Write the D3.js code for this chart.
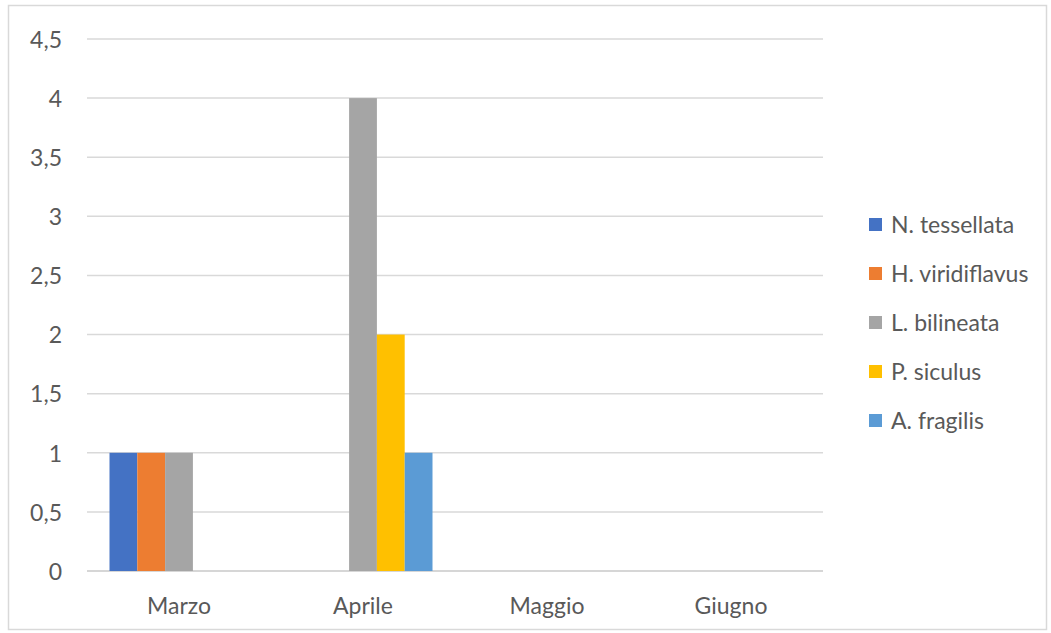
<!DOCTYPE html>
<html>
<head>
<meta charset="utf-8">
<script src="https://cdn.jsdelivr.net/npm/d3@7"></script>
<style>
  html, body { margin: 0; padding: 0; background: #fff; }
  svg { display: block; }
  text { font-family: Lato, "Noto Sans", sans-serif; fill: #595959; }
</style>
</head>
<body>
<svg id="chart" width="1051" height="633"></svg>
<script>
// Monthly sightings per species
const categories = ["Marzo", "Aprile", "Maggio", "Giugno"];
const seriesNames = ["N. tessellata", "H. viridiflavus", "L. bilineata", "P. siculus", "A. fragilis"];
const nTessellata = [1, 0, 0, 0];
const hViridiflavus = [1, 0, 0, 0];
const lBilineata = [1, 4, 0, 0];
const pSiculus = [0, 2, 0, 0];
const aFragilis = [0, 1, 0, 0];
const yTicks = [0, 0.5, 1, 1.5, 2, 2.5, 3, 3.5, 4, 4.5];
const colors = ["#4472C4", "#ED7D31", "#A5A5A5", "#FFC000", "#5B9BD5"];

const seriesValues = [nTessellata, hViridiflavus, lBilineata, pSiculus, aFragilis];
const rows = [];
categories.forEach((c, i) => {
  seriesNames.forEach((s, j) => rows.push({ cat: c, series: s, value: seriesValues[j][i], color: colors[j] }));
});

const svg = d3.select("#chart");
const plot = { left: 87, right: 823, top: 39, bottom: 571 };

// chart frame
svg.append("rect")
  .attr("x", 8.5).attr("y", 5.5)
  .attr("width", 1038).attr("height", 624)
  .attr("fill", "#fff")
  .attr("stroke", "#d9d9d9").attr("stroke-width", 1.5);

const y = d3.scaleLinear().domain([0, 4.5]).range([plot.bottom, plot.top]);
const x0 = d3.scaleBand().domain(categories).range([plot.left, plot.right]).paddingInner(0).paddingOuter(0);
const x1 = d3.scaleBand().domain(seriesNames).range([22.5, x0.bandwidth() - 22.5]).padding(0);

const fmt = v => String(v).replace(".", ",");

// gridlines
svg.append("g")
  .selectAll("line")
  .data(yTicks)
  .join("line")
  .attr("x1", plot.left).attr("x2", plot.right)
  .attr("y1", d => y(d)).attr("y2", d => y(d))
  .attr("stroke", d => d === 0 ? "#c8c8c8" : "#d9d9d9")
  .attr("stroke-width", 1.5);

// y axis labels
const yAxis = d3.axisLeft(y).tickValues(yTicks).tickFormat(fmt).tickSize(0).tickPadding(0);
const gy = svg.append("g").attr("transform", `translate(62,0)`).call(yAxis);
gy.select(".domain").remove();
gy.selectAll("text")
  .attr("font-family", "Lato, 'Noto Sans', sans-serif")
  .attr("font-size", 23)
  .attr("fill", "#595959")
  .attr("dy", "0.36em");

// bars
svg.append("g")
  .selectAll("rect")
  .data(rows.filter(d => d.value > 0))
  .join("rect")
  .attr("x", d => x0(d.cat) + x1(d.series))
  .attr("width", x1.bandwidth())
  .attr("y", d => y(d.value))
  .attr("height", d => y(0) - y(d.value))
  .attr("fill", d => d.color);

// x axis labels
const xAxis = d3.axisBottom(x0).tickSize(0).tickPadding(0);
const gx = svg.append("g").attr("transform", `translate(0,${plot.bottom})`).call(xAxis);
gx.select(".domain").remove();
gx.selectAll("text")
  .attr("font-family", "Lato, 'Noto Sans', sans-serif")
  .attr("font-size", 23)
  .attr("fill", "#595959")
  .attr("dy", null)
  .attr("y", 43);

// legend
const legend = svg.append("g")
  .selectAll("g")
  .data(seriesNames)
  .join("g")
  .attr("transform", (d, i) => `translate(869,${224.5 + i * 49})`);
legend.append("rect")
  .attr("x", 0).attr("y", -6.5)
  .attr("width", 13).attr("height", 13)
  .attr("fill", (d, i) => colors[i]);
legend.append("text")
  .attr("x", 22).attr("dy", "0.36em")
  .attr("font-size", 23)
  .text(d => d);
</script>
</body>
</html>
